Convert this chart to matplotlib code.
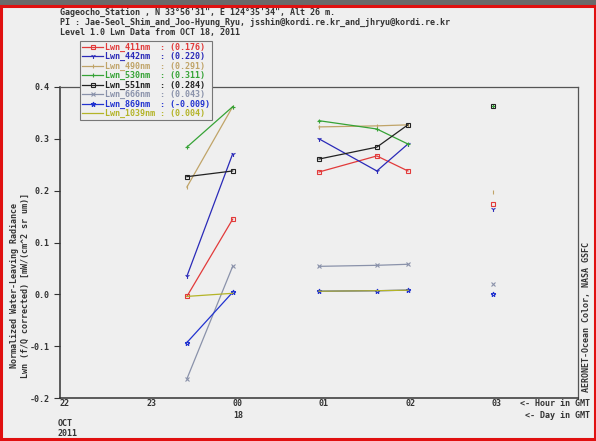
import matplotlib
matplotlib.use("Agg")
import matplotlib.pyplot as plt
from matplotlib.patches import Rectangle

# hours in GMT (24 = 00h of OCT 18)
times = [23.47, 24.0, 25.0, 25.67, 26.03, 27.01]
# index ranges of measurement sequences (lines only join points inside one)
segments = [(0, 2), (2, 5), (5, 6)]

wavelengths = ["411", "442", "490", "530", "551", "666", "869", "1039"]
means = [0.176, 0.220, 0.291, 0.311, 0.284, 0.043, -0.009, 0.004]

lwn_411 = [-0.004, 0.145, 0.236, 0.267, 0.238, 0.174]
lwn_442 = [0.035, 0.271, 0.300, 0.238, 0.290, 0.165]
lwn_490 = [0.207, 0.362, 0.323, 0.325, 0.327, 0.197]
lwn_530 = [0.284, 0.362, 0.335, 0.319, 0.290, 0.364]
lwn_551 = [0.227, 0.238, 0.261, 0.284, 0.327, 0.364]
lwn_666 = [-0.163, 0.054, 0.054, 0.056, 0.058, 0.019]
lwn_869 = [-0.093, 0.004, 0.006, 0.007, 0.008, 0.000]
lwn_1039 = [-0.004, 0.002, 0.006, 0.007, 0.008, 0.010]

series = [lwn_411, lwn_442, lwn_490, lwn_530, lwn_551, lwn_666, lwn_869, lwn_1039]
colors = ["#e23a3a", "#2a2ab8", "#c0a468", "#36a336", "#222222", "#8a92aa", "#2233d0", "#b4b428"]
markers = ["s", "1", "|", "+", "s", "x", "*", None]

hour_ticks = [22, 23, 24, 25, 26, 27]
hour_labels = ["22", "23", "00", "01", "02", "03"]
yticks = [-0.2, -0.1, 0.0, 0.1, 0.2, 0.3, 0.4]

bg = "#efefef"
mono = "DejaVu Sans Mono"

fig = plt.figure(figsize=(5.96, 4.41), dpi=100, facecolor=bg)
ax = fig.add_axes([60 / 596, 43 / 441, 518 / 596, 311 / 441], facecolor=bg)

for w, m, vals, c, mk in zip(wavelengths, means, series, colors, markers):
    label = "Lwn_%snm" % w
    label = label.ljust(11) + ": (%.3f)" % m
    for k, (a, b) in enumerate(segments):
        ax.plot(times[a:b], vals[a:b], color=c, lw=0.9, marker=mk, ms=3.5, mfc="none",
                mec=c, mew=0.8, label=label if k == 0 else None)

ax.set_xlim(22, 28)
ax.set_ylim(-0.2, 0.4)
ax.set_xticks(hour_ticks)
ax.set_xticklabels(hour_labels, ha="left", fontfamily=mono, fontweight="bold", fontsize=6)
ax.set_yticks(yticks)
ax.set_yticklabels(["%.1f" % v for v in yticks], fontfamily=mono, fontweight="bold", fontsize=6)
ax.tick_params(axis="x", length=0, pad=1, colors="#333333")
ax.tick_params(axis="y", length=4, direction="out", colors="#333333")
for s in ["left", "bottom"]:
    ax.spines[s].set_color("#333333")
    ax.spines[s].set_linewidth(1.1)
for s in ["top", "right"]:
    ax.spines[s].set_color("#555555")
    ax.spines[s].set_linewidth(0.9)

txt = dict(fontfamily=mono, fontweight="bold", fontsize=6, color="#333333")

# header
fig.text(60 / 596, 1 - 12 / 441,
         "Gageocho_Station , N 33\u00b056'31\", E 124\u00b035'34\", Alt 26 m.",
         va="center", **txt)
fig.text(60 / 596, 1 - 22 / 441,
         "PI : Jae-Seol_Shim_and_Joo-Hyung_Ryu, jsshin@kordi.re.kr_and_jhryu@kordi.re.kr",
         va="center", **txt)
fig.text(60 / 596, 1 - 32 / 441, "Level 1.0 Lwn Data from OCT 18, 2011", va="center", **txt)

# day / month annotations
fig.text(233 / 596, 1 - 415 / 441, "18", va="center", **txt)
fig.text(58 / 596, 1 - 424 / 441, "OCT", va="center", **txt)
fig.text(58 / 596, 1 - 434 / 441, "2011", va="center", **txt)
fig.text(590 / 596, 1 - 404 / 441, "<- Hour in GMT", ha="right", va="center", **txt)
fig.text(590 / 596, 1 - 415 / 441, "<- Day in GMT", ha="right", va="center", **txt)

fig.text(20 / 596, 1 - 285 / 441,
         "Normalized Water-Leaving Radiance\nLwn (f/Q corrected) [mW/(cm^2 sr um)]",
         rotation=90, ha="center", va="center", linespacing=1.2, **txt)
fig.text(586 / 596, 1 - 392 / 441, "AERONET-Ocean Color, NASA GSFC",
         rotation=90, ha="center", va="bottom", **txt)

leg = fig.legend(loc="upper left", bbox_to_anchor=(80 / 596, 1 - 41 / 441),
                 prop={"family": mono, "weight": "bold", "size": 6},
                 labelcolor="linecolor", handlelength=2.6, handletextpad=0.2,
                 labelspacing=0.05, borderpad=0.2, borderaxespad=0,
                 fancybox=False, framealpha=1, facecolor=bg, edgecolor="#777777")
leg.get_frame().set_linewidth(0.8)

# screenshot frame
fig.patches.append(Rectangle((0, 1 - 5 / 441), 1, 5 / 441, transform=fig.transFigure,
                             facecolor="#6a6a6a", edgecolor="none", zorder=5))
fig.patches.append(Rectangle((0.002, 0.004), 0.996, 1 - 5 / 441 - 0.006,
                             transform=fig.transFigure, facecolor="none",
                             edgecolor="#e01010", lw=2.2, zorder=6))

fig.savefig("out.png", dpi=100, facecolor=bg)
